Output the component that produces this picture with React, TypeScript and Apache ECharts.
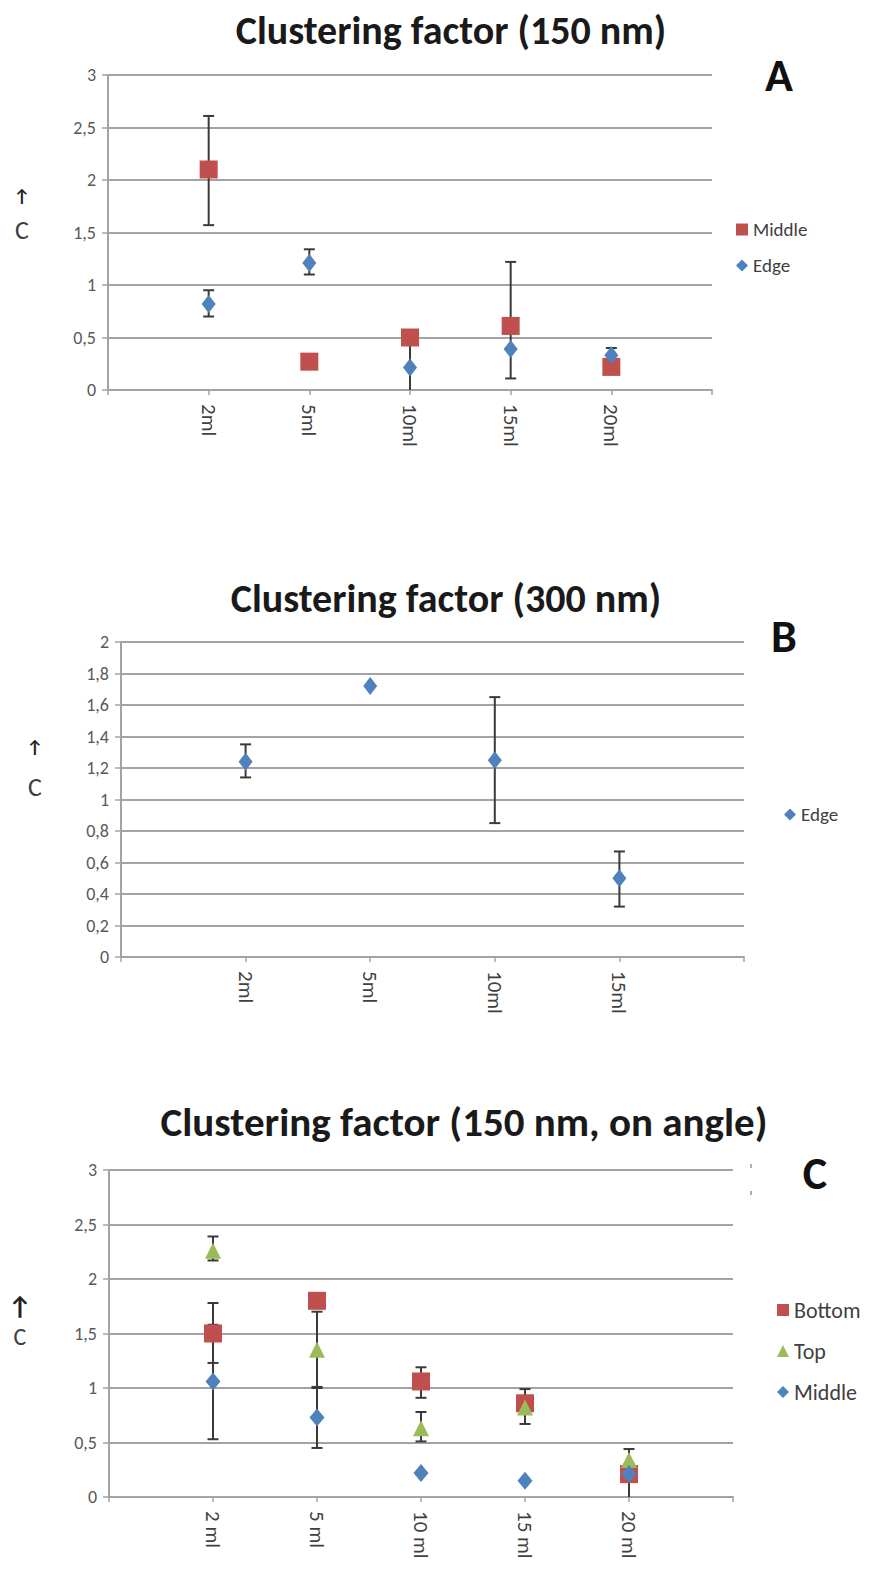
import React, { useEffect, useRef } from 'react';
import * as echarts from 'echarts';

// ---------- DATA ----------
const catsA = ['2ml', '5ml', '10ml', '15ml', '20ml'];
const middleA = [2.1, 0.27, 0.5, 0.61, 0.22];
const edgeA = [0.82, 1.21, 0.215, 0.39, 0.33];
const middleAErr = [[1.57, 2.61], null, null, [0.11, 1.22], null];
const edgeAErr = [[0.7, 0.95], [1.1, 1.34], [0, 0.52], null, [0.28, 0.4]];

const catsB = ['2ml', '5ml', '10ml', '15ml'];
const edgeB = [1.24, 1.72, 1.25, 0.5];
const edgeBErr = [[1.14, 1.35], null, [0.85, 1.65], [0.32, 0.67]];

const catsC = ['2 ml', '5 ml', '10 ml', '15 ml', '20 ml'];
const bottomC = [1.5, 1.8, 1.06, 0.86, 0.21];
const topC = [2.26, 1.35, 0.63, 0.82, 0.34];
const middleC = [1.06, 0.73, 0.22, 0.15, 0.21];
const bottomCErr = [[1.23, 1.78], null, [0.91, 1.19], [0.67, 0.99], [0, 0.3]];
const topCErr = [[2.17, 2.39], [1.0, 1.7], [0.51, 0.78], null, [0.25, 0.44]];
const middleCErr = [[0.53, 1.58], [0.45, 1.01], null, null, null];

const titles = ['Clustering factor (150 nm)', 'Clustering factor (300 nm)', 'Clustering factor (150 nm, on angle)'];
const panelLetters = ['A', 'B', 'C'];

// ---------- STYLE ----------
const FONT = 'Carlito, "Liberation Sans", Arial, sans-serif';
const RED = '#C0504D';
const BLUE = '#4F81BD';
const GREEN = '#9BBB59';
const GRID_GRAY = '#a3a3a3';
const ERR = '#3a3a3a';

const fmtNum = (v: number) => String(Math.round(v * 10) / 10).replace('.', ',');

const toPts = (vals: number[]) => vals.map((v, i) => [i + 1, v]);
const toErr = (errs: (number[] | null)[]) =>
  errs.map((e, i) => (e ? [i + 1, e[0], e[1]] : null)).filter((d) => d !== null);

const errRender = (params: any, api: any) => {
  const x = api.value(0);
  const lo = api.value(1);
  const hi = api.value(2);
  const pHi = api.coord([x, hi]);
  const pLo = api.coord([x, lo]);
  const w = 5.5;
  const style = { stroke: ERR, lineWidth: 2 };
  const children: any[] = [
    { type: 'line', shape: { x1: pHi[0], y1: pHi[1], x2: pLo[0], y2: pLo[1] }, style },
    { type: 'line', shape: { x1: pHi[0] - w, y1: pHi[1], x2: pHi[0] + w, y2: pHi[1] }, style },
  ];
  if (lo > 0) {
    children.push({ type: 'line', shape: { x1: pLo[0] - w, y1: pLo[1], x2: pLo[0] + w, y2: pLo[1] }, style });
  }
  return { type: 'group', children };
};

const xAxisCfg = (gridIndex: number, cats: string[]) => ({
  type: 'value',
  gridIndex,
  min: 0,
  max: cats.length + 1,
  interval: 1,
  splitLine: { show: false },
  axisLine: { show: true, lineStyle: { color: GRID_GRAY, width: 2 } },
  axisTick: { show: true, length: 5, lineStyle: { color: GRID_GRAY, width: 1.5 } },
  axisLabel: {
    rotate: -90,
    formatter: (v: number) => cats[v - 1] ?? '',
    color: '#404040',
    fontSize: 21,
    fontFamily: FONT,
    margin: 14,
  },
});

const yAxisCfg = (gridIndex: number, max: number, interval: number) => ({
  type: 'value',
  gridIndex,
  min: 0,
  max,
  interval,
  splitLine: { show: true, lineStyle: { color: GRID_GRAY, width: 2 } },
  axisLine: { show: true, lineStyle: { color: GRID_GRAY, width: 2 } },
  axisTick: { show: true, length: 6, lineStyle: { color: GRID_GRAY, width: 1.5 } },
  axisLabel: { formatter: fmtNum, color: '#595959', fontSize: 18, fontFamily: FONT, margin: 12 },
});

const scatter = (name: string, idx: number, vals: number[], symbol: string, size: any, color: string) => ({
  type: 'scatter',
  name,
  xAxisIndex: idx,
  yAxisIndex: idx,
  data: toPts(vals),
  symbol,
  symbolSize: size,
  itemStyle: { color, opacity: 1 },
  z: 3,
});

const errSeries = (name: string, idx: number, errs: (number[] | null)[]) => ({
  type: 'custom',
  name,
  xAxisIndex: idx,
  yAxisIndex: idx,
  data: toErr(errs),
  encode: { x: 0, y: [1, 2] },
  renderItem: errRender,
  z: 2,
  silent: true,
});

const legendCfg = (names: string[], left: number, top: number, gap: number, fontSize: number) => ({
  data: names,
  orient: 'vertical',
  left,
  top,
  padding: 0,
  itemGap: gap,
  itemWidth: 12,
  itemHeight: 12,
  formatter: (n: string) => n.split('|')[1],
  textStyle: { color: '#404040', fontSize, fontFamily: FONT, lineHeight: fontSize },
});

const textEl = (text: string, x: number, y: number, size: number, weight: string, color = '#1a1a1a') => ({
  type: 'text',
  x,
  y,
  style: {
    text,
    fontSize: size,
    fontWeight: weight,
    fontFamily: FONT,
    fill: color,
    align: 'center',
    verticalAlign: 'middle',
  },
});

export default function App() {
  const ref = useRef<HTMLDivElement>(null);
  useEffect(() => {
    if (!ref.current) return;
    const chart = echarts.init(ref.current, undefined, { renderer: 'svg' });
    const option: any = {
      animation: false,
      backgroundColor: '#ffffff',
      grid: [
        { left: 108, top: 75, width: 604, height: 315 },
        { left: 121, top: 642, width: 623, height: 315 },
        { left: 109, top: 1170, width: 624, height: 327 },
      ],
      xAxis: [xAxisCfg(0, catsA), xAxisCfg(1, catsB), xAxisCfg(2, catsC)],
      yAxis: [yAxisCfg(0, 3, 0.5), yAxisCfg(1, 2, 0.2), yAxisCfg(2, 3, 0.5)],
      legend: [
        legendCfg(['A|Middle', 'A|Edge'], 736, 220, 17, 19),
        legendCfg(['B|Edge'], 784, 805, 17, 19),
        legendCfg(['C|Bottom', 'C|Top', 'C|Middle'], 777, 1299, 19, 22),
      ],
      series: [
        errSeries('A|MiddleErr', 0, middleAErr),
        errSeries('A|EdgeErr', 0, edgeAErr),
        scatter('A|Middle', 0, middleA, 'rect', 18, RED),
        scatter('A|Edge', 0, edgeA, 'diamond', [14, 18], BLUE),

        errSeries('B|EdgeErr', 1, edgeBErr),
        scatter('B|Edge', 1, edgeB, 'diamond', [14, 18], BLUE),

        errSeries('C|BottomErr', 2, bottomCErr),
        errSeries('C|TopErr', 2, topCErr),
        errSeries('C|MiddleErr', 2, middleCErr),
        scatter('C|Bottom', 2, bottomC, 'rect', 18, RED),
        scatter('C|Top', 2, topC, 'triangle', [16, 16], GREEN),
        scatter('C|Middle', 2, middleC, 'diamond', [15, 18], BLUE),
      ],
      graphic: [
        textEl(titles[0], 451, 30, 40, 'bold'),
        textEl(titles[1], 446, 598, 40, 'bold'),
        textEl(titles[2], 464, 1122, 41, 'bold'),
        textEl(panelLetters[0], 779, 75, 46, 'bold', '#111'),
        textEl(panelLetters[1], 784, 636, 46, 'bold', '#111'),
        textEl(panelLetters[2], 815, 1173, 46, 'bold', '#111'),
        textEl('↑', 22, 196, 18, 'bold', '#222'),
        textEl('C', 22, 230, 26, 'normal', '#404040'),
        textEl('↑', 35, 747, 18, 'bold', '#222'),
        textEl('C', 35, 787, 26, 'normal', '#404040'),
        textEl('↑', 20, 1306, 26, 'bold', '#222'),
        textEl('C', 20, 1336, 24, 'normal', '#404040'),
        { type: 'rect', shape: { x: 750, y: 1164, width: 2, height: 4 }, style: { fill: '#9fb3c8' } },
        { type: 'rect', shape: { x: 750, y: 1191, width: 2, height: 4 }, style: { fill: '#9fb3c8' } },
      ],
    };
    chart.setOption(option);
    return () => chart.dispose();
  }, []);
  return (
    <div
      ref={ref}
      style={{ position: 'absolute', left: 0, top: 0, width: 869, height: 1578, background: '#fff' }}
    />
  );
}
